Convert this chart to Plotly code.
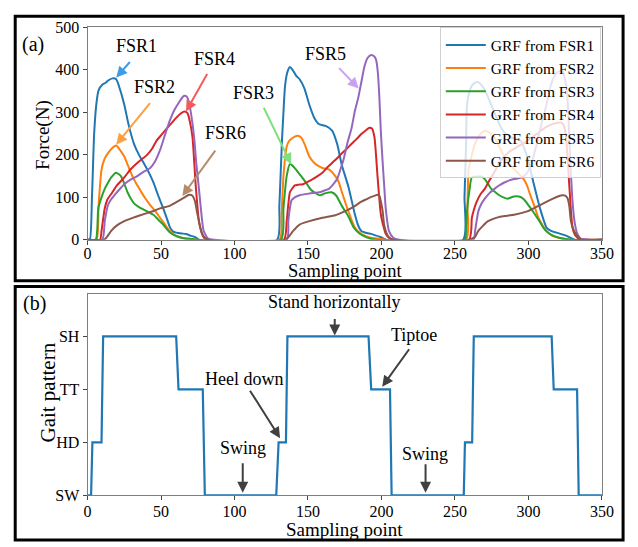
import plotly.graph_objects as go

# ---------------- data ----------------
fsr1_x = [0, 1.5, 3, 4.5, 6, 7.5, 10, 12, 14, 17, 19.5, 22, 25, 28, 31.6, 35, 38.2, 41.5, 44.8, 48, 51.5, 54, 56, 58, 60.3, 64, 67, 70, 73.6, 76,
          128.9, 130.5, 132.2, 133.3, 134.4, 136, 137.7, 139.5, 142, 144.3, 147.6, 150.9, 154.3, 157.6, 162, 166.4, 169.8, 173.1, 177.5, 181.9, 184, 186.3, 190, 193, 199.6, 204,
          255.5, 256.5, 257.5, 258.2, 260, 261.5, 264.8, 267, 269.2, 272, 274.7, 278, 281.4, 284.5, 288, 291, 294.6, 299.1, 303.4, 307.9, 312.3, 315, 319, 325.6, 331.6, 350]
fsr1_y = [0, 0, 100, 250, 320, 352, 365, 369, 375, 380, 378, 355, 318, 270, 226, 200, 181, 160, 135, 105, 74, 50, 30, 20, 17, 15, 14, 10, 6, 0,
          0, 80, 226, 300, 363, 395, 407, 400, 386, 378, 356, 318, 287, 272, 268, 257, 226, 175, 125, 60, 35, 21, 16, 14, 6, 0,
          0, 100, 220, 318, 350, 363, 372, 368, 359, 340, 318, 290, 264, 250, 242, 238, 234, 196, 135, 74, 29, 22, 17, 10, 0, 0]

fsr2_x = [0, 6, 7.5, 9.5, 11.5, 13.9, 16.5, 19.4, 22, 25, 27.5, 30.5, 33, 36, 39, 42.6, 46, 49.3, 52.5, 55.9, 59, 62.5, 66, 71, 75,
          130.5, 132, 133.3, 135.5, 137, 138.8, 141, 143.2, 145.5, 147.6, 150.9, 154.3, 157, 159.8, 164.2, 168.6, 171, 173.1, 177.5, 181.9, 185, 188.5, 193, 199.6, 203,
          257.5, 258.5, 259.3, 261.5, 263.5, 265.9, 268, 270.3, 273.5, 276.9, 280, 283.6, 287, 290.2, 293.5, 296.8, 299, 301.3, 304, 306.8, 309.5, 312.3, 316, 321.1, 326, 350]
fsr2_y = [0, 0, 80, 165, 190, 204, 215, 222, 212, 196, 175, 150, 133, 116, 99, 82, 68, 52, 37, 21, 12, 7, 4, 2, 0,
          0, 60, 150, 219, 232, 238, 243, 245, 240, 226, 196, 181, 174, 169, 166, 150, 135, 112, 67, 29, 17, 10, 5, 2, 0,
          0, 80, 166, 200, 225, 242, 252, 257, 252, 242, 220, 196, 180, 166, 155, 143, 128, 105, 80, 52, 35, 21, 10, 4, 0, 0]

fsr3_x = [0, 5.5, 7.3, 9.5, 11.7, 14, 16.1, 19.4, 22.7, 25, 27.2, 29.5, 31.6, 35, 38.2, 41.5, 44.8, 48, 51.5, 53.5, 55.9, 59, 62.5, 66, 71, 75,
          131.5, 133.3, 135.5, 137.7, 139, 141, 143, 145.4, 147.5, 149.9, 152, 154.3, 158, 162, 166, 169, 173, 177.5, 181, 185, 190, 196,
          256.8, 257.5, 258.2, 260, 261.5, 265.9, 268, 270.3, 272.5, 274.7, 277.5, 280.2, 283, 285.8, 290.2, 294.6, 297, 299.1, 302, 304.6, 307.5, 310.1, 313, 316.7, 321, 325.6, 330, 350]
fsr3_y = [0, 0, 74, 100, 120, 135, 147, 158, 150, 132, 112, 97, 86, 77, 71, 65, 59, 48, 36, 27, 18, 11, 6, 3, 2, 0,
          0, 74, 150, 178, 176, 169, 160, 150, 140, 128, 118, 112, 105, 110, 112, 105, 80, 55, 30, 15, 6, 0,
          0, 20, 67, 120, 147, 149, 149, 143, 132, 120, 112, 105, 100, 97, 102, 101, 95, 86, 72, 59, 44, 29, 18, 10, 5, 2, 0, 0]

fsr4_x = [0, 8.5, 9.5, 11.7, 13.5, 16.1, 20, 25, 29, 33.8, 37, 40.5, 44, 47.1, 50.5, 53.7, 57, 60.3, 63, 65.8, 68, 69.5, 71.4, 73.6, 75.8, 77.5, 79, 82,
          133.5, 135.5, 136.5, 137.7, 139.5, 141, 143.5, 146.6, 150, 153.2, 156.5, 159.8, 163, 166.4, 169.8, 173.1, 176.5, 179.7, 183, 186.3, 189.5, 191.8, 193.5, 195.2, 197.3, 199.6, 201.5, 202.9, 205, 209,
          259.5, 261.5, 263, 264.8, 267.5, 270.3, 273.5, 276.9, 280, 284, 288, 293, 297, 301, 305.7, 310, 314.5, 319, 322.3, 324, 325.6, 327.8, 330, 332, 335, 350]
fsr4_y = [0, 0, 21, 74, 95, 108, 128, 147, 165, 181, 190, 200, 215, 234, 248, 261, 274, 287, 296, 302, 298, 280, 242, 128, 44, 18, 6, 0,
          0, 44, 80, 112, 122, 128, 130, 131, 137, 143, 150, 158, 170, 181, 192, 204, 215, 226, 237, 249, 258, 264, 262, 242, 150, 59, 30, 14, 5, 0,
          0, 52, 72, 90, 108, 120, 140, 160, 180, 198, 210, 220, 228, 238, 249, 261, 270, 275, 276, 270, 242, 128, 29, 10, 2, 0]

fsr5_x = [0, 10, 11.7, 13.9, 16, 18.3, 21.5, 25, 29, 33.8, 38, 42.6, 46, 49.3, 52.5, 55.9, 59, 62.5, 64.5, 65.8, 67.5, 68.9, 70.5, 72.5, 74, 75.8, 77.5, 79, 82, 86,
          135.5, 136.6, 137.5, 138.8, 141, 144.3, 150.9, 157.6, 161, 164.2, 167, 169.8, 172, 174.1, 177, 179.7, 182, 184.1, 186.5, 188.5, 190.5, 193, 195, 196.3, 197.5, 198.5, 199.5, 200.7, 202, 202.9, 205.1, 208, 212,
          262.5, 263.7, 265.9, 268, 270.3, 273.5, 276.9, 280, 283.6, 287, 290.2, 295.7, 299.1, 302.5, 305.7, 309, 312.3, 314.5, 316.7, 319, 321.1, 323.5, 325.6, 326.8, 327.8, 329, 330, 331.5, 333.3, 336, 350]
fsr5_y = [0, 0, 44, 82, 95, 105, 118, 131, 141, 150, 160, 169, 185, 211, 245, 280, 305, 325, 335, 339, 337, 325, 295, 242, 180, 120, 60, 21, 3, 0,
          0, 44, 70, 93, 100, 105, 109, 112, 116, 120, 130, 143, 165, 188, 230, 264, 305, 333, 375, 409, 428, 435, 432, 424, 395, 340, 260, 188, 120, 74, 21, 5, 0,
          0, 21, 67, 85, 97, 110, 120, 128, 135, 140, 143, 147, 158, 185, 226, 275, 318, 355, 378, 392, 397, 395, 363, 320, 242, 150, 90, 40, 14, 2, 0]

fsr6_x = [0, 11, 13, 16.1, 20, 25, 31.6, 36, 40.5, 45, 49.3, 55.9, 59, 62.5, 66, 69.1, 71.4, 73, 74.7, 76.5, 78, 80, 83,
          134, 136.6, 139.9, 144.3, 150.9, 159.8, 168.6, 173, 177.5, 182, 186.3, 190, 193, 195.5, 197.3, 198.5, 199.6, 200.7, 201.8, 203.5, 205.1, 208,
          259.5, 261.5, 263.5, 265.9, 269, 272.5, 276.5, 281.4, 290.2, 299.1, 303.5, 307.9, 312.5, 316.7, 320, 323.3, 325, 326.6, 327.8, 328.9, 330.5, 332.2, 336, 350]
fsr6_y = [0, 0, 6, 21, 34, 44, 53, 58, 63, 68, 74, 80, 86, 93, 100, 106, 104, 92, 62, 32, 14, 4, 0,
          0, 6, 21, 36, 44, 52, 58, 64, 71, 80, 90, 96, 101, 104, 106, 104, 90, 70, 36, 15, 6, 0,
          0, 3, 6, 21, 33, 44, 50, 55, 59, 67, 74, 82, 90, 97, 102, 105, 104, 98, 80, 44, 25, 14, 0, 0]

series_names = ["GRF from FSR1", "GRF from FSR2", "GRF from FSR3",
                "GRF from FSR4", "GRF from FSR5", "GRF from FSR6"]

gait_x = [0, 2.4, 3.3, 9.5, 10.6, 60.3, 61.9, 78.4, 79.8, 128.4, 130, 135, 136, 191.2, 193, 205.8, 206.9,
          256, 256.8, 261.7, 262.8, 315.8, 317.2, 333.1, 334.2, 350]
gait_y = [0, 0, 1, 1, 3, 3, 2, 2, 0, 0, 1, 1, 3, 3, 2, 2, 0, 0, 1, 1, 3, 3, 2, 2, 0, 0]
gait_levels = [0, 1, 2, 3]
gait_labels = ["SW", "HD", "TT", "SH"]

x_ticks = [0, 50, 100, 150, 200, 250, 300, 350]
force_ticks = [0, 100, 200, 300, 400, 500]

# ---------------- figure ----------------
W, H = 638, 547
FONT = "Liberation Serif, Times New Roman, serif"
colors = ["#1f77b4", "#ff7f0e", "#2ca02c", "#d62728", "#9467bd", "#8c564b"]

def px(x):
    return x / W

def py(y):
    return 1 - y / H

fig = go.Figure()
xs = [fsr1_x, fsr2_x, fsr3_x, fsr4_x, fsr5_x, fsr6_x]
ys = [fsr1_y, fsr2_y, fsr3_y, fsr4_y, fsr5_y, fsr6_y]
for xv, yv, name, c in zip(xs, ys, series_names, colors):
    fig.add_trace(go.Scatter(x=xv, y=yv, mode="lines", name=name,
                             line=dict(color=c, width=2, shape="spline", smoothing=0.6),
                             xaxis="x", yaxis="y"))

fig.add_trace(go.Scatter(x=gait_x, y=gait_y, mode="lines", showlegend=False,
                         line=dict(color="#1f77b4", width=2.2),
                         xaxis="x2", yaxis="y2"))

axis_common = dict(showline=True, mirror=True, linecolor="#7f7f7f", linewidth=1,
                   ticks="outside", ticklen=4, tickcolor="#444", tickwidth=1,
                   showgrid=False, zeroline=False, layer="below traces",
                   tickfont=dict(family=FONT, size=16, color="black"))

fig.update_layout(
    width=W, height=H,
    margin=dict(l=0, r=0, t=0, b=0),
    paper_bgcolor="white", plot_bgcolor="white",
    font=dict(family=FONT, color="black"),
    xaxis=dict(domain=[px(85.7), px(613.3)], range=[0, 350], tickvals=x_ticks,
               anchor="y", ticklabelstandoff=-5, **axis_common),
    yaxis=dict(domain=[py(239.3), py(20)], range=[0, 500], tickvals=force_ticks,
               anchor="x", **axis_common),
    xaxis2=dict(domain=[px(85.7), px(613.3)], range=[0, 350], tickvals=x_ticks,
                anchor="y2", ticklabelstandoff=-3, **axis_common),
    yaxis2=dict(domain=[py(503), py(294.7)], range=[0, 3.81], tickvals=gait_levels,
                ticktext=gait_labels, anchor="x2", **axis_common),
    legend=dict(x=px(447), y=py(20), xanchor="left", yanchor="top",
                bgcolor="rgba(255,255,255,0.8)", bordercolor="#d0d0d0", borderwidth=1,
                font=dict(family=FONT, size=15.5, color="black"),
                tracegroupgap=0, itemwidth=40),
    showlegend=True,
)

# panel frames
fig.add_shape(type="rect", xref="paper", yref="paper",
              x0=px(11.5), x1=px(635), y0=py(281.5), y1=py(8.5),
              line=dict(color="black", width=3))
fig.add_shape(type="rect", xref="paper", yref="paper",
              x0=px(11.5), x1=px(635), y0=py(549), y1=py(287.5),
              line=dict(color="black", width=3))

ann = []
def text(x, y, s, size=19, xref="paper", yref="paper", angle=0):
    ann.append(dict(x=x, y=y, xref=xref, yref=yref, text=s, showarrow=False,
                    font=dict(family=FONT, size=size, color="black"),
                    xanchor="center", yanchor="middle", textangle=angle))

# panel labels and axis titles
text(px(30), py(38), "(a)", size=20)
text(px(31), py(305), "(b)", size=20)
text(px(40), py(131), "Force(N)", size=19, angle=-90)
text(px(45), py(397), "Gait pattern", size=21, angle=-90)
text(px(349.5), py(271), "Sampling point", size=18.5)
text(px(349.5), py(538), "Sampling point", size=19)

# FSR labels in panel (a)
text(px(136), py(39), "FSR1", size=18)
text(px(154), py(82), "FSR2", size=18)
text(px(216), py(53), "FSR4", size=18)
text(px(227), py(129), "FSR6", size=18)
text(px(256), py(88), "FSR3", size=18)
text(px(330), py(47), "FSR5", size=18)

def arrow(x, y, ax, ay, color, xr="x", yr="y"):
    ann.append(dict(x=x, y=y, xref=xr, yref=yr, ax=ax, ay=ay, text="",
                    showarrow=True, arrowhead=2, arrowsize=1.1, arrowwidth=2,
                    arrowcolor=color))

# arrows panel (a): tip in data coords, tail offset in px
arrow(19.5, 382, 15, -17, "#3d9be9")      # FSR1
arrow(19.5, 224, 35, -43, "#ffa040")      # FSR2
arrow(67, 302, 22, -39, "#f25c5c")        # FSR4
arrow(64.5, 103, 34, -47, "#b48c6c")      # FSR6
arrow(138.5, 178, -28, -58, "#7ee07e")    # FSR3
arrow(184.5, 356, -21, -22, "#c9a3f0")    # FSR5

# panel (b) texts and arrows
text(px(338), py(303), "Stand horizontally", size=18)
text(px(421), py(337.5), "Tiptoe", size=18)
text(px(246), py(383), "Heel down", size=18)
text(px(245), py(454), "Swing", size=18)
text(px(432), py(460), "Swing", size=18)
grey = "#404040"
arrow(168.2, 3.02, 0, -18, grey, "x2", "y2")
arrow(200.5, 2.05, 28, -39, grey, "x2", "y2")
arrow(131, 1.08, -31, -49, grey, "x2", "y2")
arrow(105.6, 0.05, 0, -31, grey, "x2", "y2")
arrow(230, 0.05, 0, -30, grey, "x2", "y2")

fig.update_layout(annotations=ann)
fig.write_html("out.html", config={"displayModeBar": False},
               post_script="document.body.style.margin='0px';document.body.style.overflow='hidden';")
